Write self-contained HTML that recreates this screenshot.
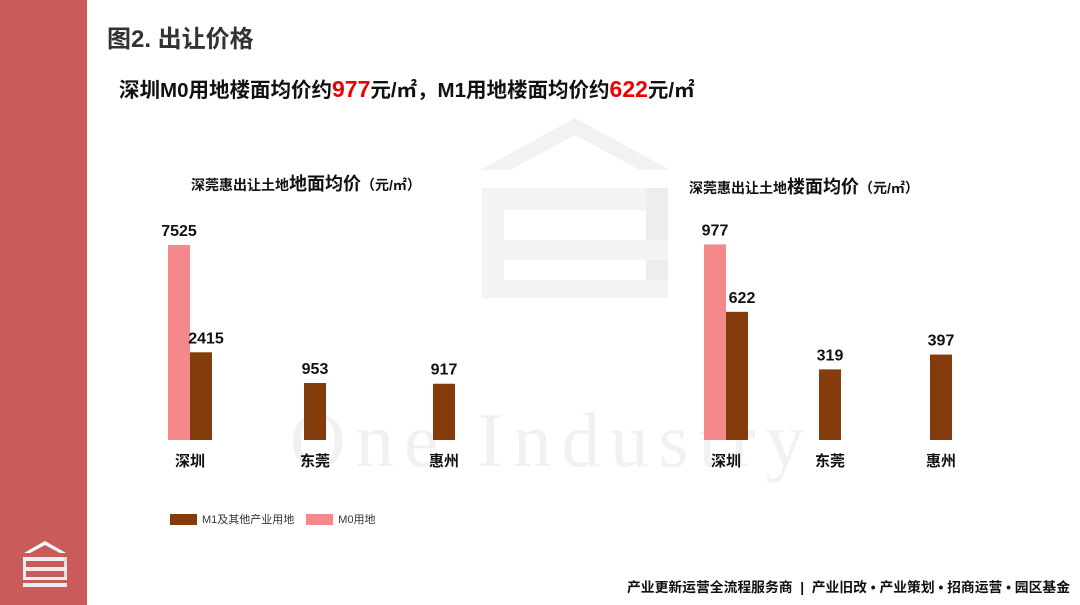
<!DOCTYPE html>
<html><head><meta charset="utf-8"><style>
body{margin:0;width:1080px;height:605px;overflow:hidden;background:#fff;font-family:"Liberation Sans","Noto Sans CJK SC",sans-serif;position:relative}
.abs{position:absolute}
</style></head><body>
<div class="abs" style="left:0;top:0;width:87px;height:605px;background:#c95b5b"></div>
<svg class="abs" style="left:20px;top:538px" width="50" height="52">
<polygon points="25,3 46,15 40,15 25,7 10,15 4,15" fill="#fff"/>
<rect x="3" y="19" width="44" height="4" fill="#eee"/><rect x="3" y="19" width="3" height="22" fill="#eee"/><rect x="44" y="19" width="3" height="22" fill="#ddd"/>
<rect x="3" y="29" width="44" height="4" fill="#eee"/><rect x="3" y="39" width="44" height="3" fill="#eee"/><rect x="3" y="45" width="44" height="4" fill="#eee"/>
</svg>
<div class="abs" style="left:107px;top:19px;font-size:24px;font-weight:bold;color:#333">图2. 出让价格</div>
<div class="abs" style="left:119px;top:73px;font-size:20.5px;font-weight:bold;color:#111">深圳M0用地楼面均价约<span style="color:#e00;font-size:23px">977</span>元/㎡，M1用地楼面均价约<span style="color:#e00;font-size:23px">622</span>元/㎡</div>
<svg class="abs" style="left:0;top:0" width="1080" height="605">
<polygon points="575,118 670,170 640,170 575,135 510,170 480,170" fill="#f2f2f2"/>
<rect x="482" y="188" width="186" height="22" fill="#f3f3f3"/><rect x="482" y="188" width="22" height="110" fill="#f3f3f3"/><rect x="646" y="188" width="22" height="110" fill="#ededed"/>
<rect x="482" y="240" width="186" height="20" fill="#f3f3f3"/><rect x="482" y="280" width="186" height="18" fill="#f3f3f3"/>
<text x="290" y="466" font-family="Liberation Serif,serif" font-size="77" fill="#f1f1f1" letter-spacing="10">One Industry</text>
</svg>
<svg class="abs" id="chart" style="left:0;top:0" width="1080" height="605"></svg>
<div class="abs" style="left:191px;top:170px;font-size:14px;font-weight:bold;color:#111">深莞惠出让土地<span style="font-size:18px">地面均价</span>（元/㎡）</div>
<div class="abs" style="left:689px;top:173px;font-size:14px;font-weight:bold;color:#111">深莞惠出让土地<span style="font-size:18px">楼面均价</span>（元/㎡）</div>
<div class="abs" style="left:170px;top:511px;font-size:11px;color:#333;display:flex;align-items:center">
<span style="width:27px;height:11px;background:#843c0c;display:inline-block;margin-right:5px"></span>M1及其他产业用地
<span style="width:27px;height:11px;background:#f4888a;display:inline-block;margin:0 5px 0 12px"></span>M0用地</div>
<div class="abs" style="right:10px;top:576px;font-size:13.8px;font-weight:bold;color:#111">产业更新运营全流程服务商 &nbsp;|&nbsp; 产业旧改 • 产业策划 • 招商运营 • 园区基金</div>
<script>
const cities=["深圳","东莞","惠州"];
const landM0=[7525,null,null];
const landM1=[2415,953,917];
const floorM0=[977,null,null];
const floorM1=[622,319,397];
const svg=document.getElementById('chart');
const NS="http://www.w3.org/2000/svg";
function mk(t,a){const e=document.createElementNS(NS,t);for(const k in a)e.setAttribute(k,a[k]);svg.appendChild(e);return e;}
function draw(m0,m1,xs,scale,pre){
  const base=440;
  cities.forEach((c,i)=>{
    const x=xs[i];
    if(m0[i]!=null){const h=scale(m0[i]);
      const r=mk('rect',{x:x-22,y:base-h,width:22,height:h,fill:'#f4888a'});
      
      const t=mk('text',{x:x-11,y:base-h-9,'text-anchor':'middle','font-size':16,'font-weight':'bold',fill:'#111'});t.textContent=m0[i];
      }
    const h=scale(m1[i]);const bx=m0[i]!=null?x:x-11;
    const r=mk('rect',{x:bx,y:base-h,width:22,height:h,fill:'#843c0c'});
    
    const t=mk('text',{x:bx+11+(m0[i]!=null?5:0),y:base-h-9,'text-anchor':'middle','font-size':16,'font-weight':'bold',fill:'#111'});t.textContent=m1[i];
    
    const c1=mk('text',{x:x,y:base+26,'text-anchor':'middle','font-size':15,'font-weight':'bold',fill:'#111'});c1.textContent=c;
    
  });
}
draw(landM0,landM1,[190,315,444],v=>37+v*0.021,'land');
draw(floorM0,floorM1,[726,830,941],v=>10+v*0.19,'floor');
</script>
</body></html>
